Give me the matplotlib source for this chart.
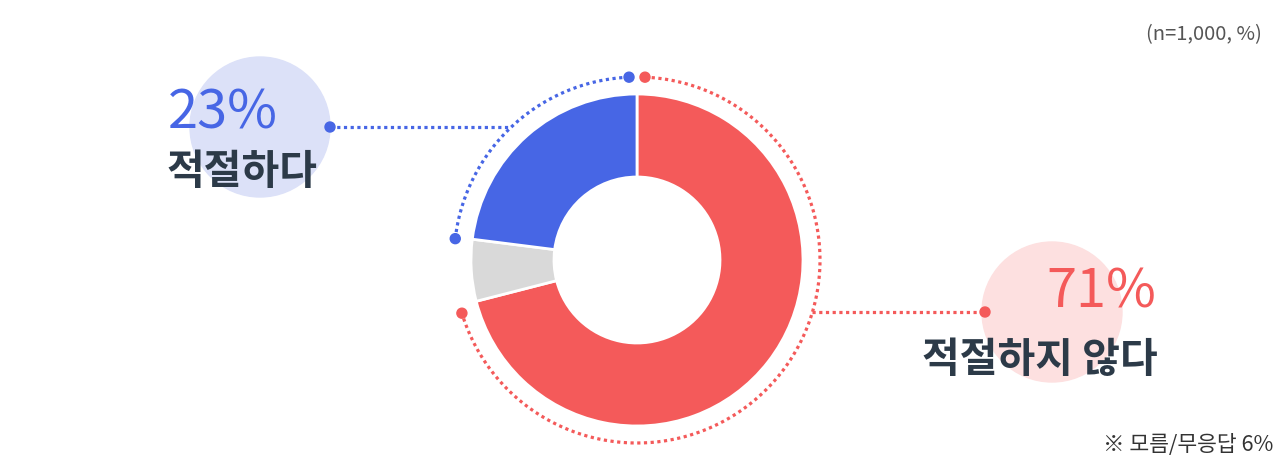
import numpy as np
import matplotlib.pyplot as plt
from matplotlib.patches import Circle

plt.rcParams['font.family'] = ['Noto Sans CJK KR', 'DejaVu Sans']

# --- data ---
labels = ['적절하지 않다', '모름/무응답', '적절하다']
values = [71, 6, 23]
colors = ['#F45A5A', '#D9D9D9', '#4766E5']
note_text = '※ 모름/무응답 6%'
base_text = '(n=1,000, %)'

W, H = 1280, 470
fig = plt.figure(figsize=(W / 100, H / 100), dpi=100)
ax = fig.add_axes([0, 0, 1, 1])

cx, cy = 637, H - 260
R = 166

ax.pie(values, colors=colors, startangle=90, counterclock=False,
       center=(cx, cy), radius=R,
       wedgeprops=dict(width=83, edgecolor='white', linewidth=2))

ax.set_xlim(0, W)
ax.set_ylim(0, H)
ax.set_aspect('auto')
ax.axis('off')

# --- angles of the wedges ---
total = sum(values)
red_end = 90 - 360 * values[0] / total          # clockwise from top
blue_start = 90 + 360 * values[2] / total       # counterclockwise from top

dot_style = dict(linestyle=(0, (1, 1.1)), linewidth=2.3, dash_capstyle='butt')
r_arc = 183


def dotted_arc(t1, t2, color):
    t = np.deg2rad(np.linspace(t1, t2, 300))
    ax.plot(cx + r_arc * np.cos(t), cy + r_arc * np.sin(t), color=color, **dot_style)
    for a in (t[0], t[-1]):
        ax.add_patch(Circle((cx + r_arc * np.cos(a), cy + r_arc * np.sin(a)), 5,
                            color=color, zorder=5))


dotted_arc(92.5, blue_start + 0.5, colors[2])
dotted_arc(87.5, red_end + 2.5, colors[0])

# label bubbles
ax.add_patch(Circle((260, H - 127), 70, color='#DCE1F8', zorder=0))
ax.add_patch(Circle((1052, H - 312), 70, color='#FDE0E0', zorder=0))

# connector lines
yb = H - 127
xb = cx - np.sqrt(r_arc ** 2 - (yb - cy) ** 2)
ax.plot([330, xb], [yb, yb], color=colors[2], **dot_style)
ax.add_patch(Circle((330, yb), 5, color=colors[2], zorder=5))

yr = H - 312
xr = cx + np.sqrt(r_arc ** 2 - (yr - cy) ** 2)
ax.plot([xr, 985], [yr, yr], color=colors[0], **dot_style)
ax.add_patch(Circle((985, yr), 5, color=colors[0], zorder=5))

# texts
dark = '#2C3A48'
ax.text(168, H - 113, f'{values[2]}%', color=colors[2], fontsize=39,
        fontweight='light', ha='left', va='center')
ax.text(166, H - 172, labels[2], color=dark, fontsize=29.5,
        fontweight='bold', ha='left', va='center')
ax.text(1156, H - 292, f'{values[0]}%', color=colors[0], fontsize=39,
        fontweight='light', ha='right', va='center')
ax.text(1158, H - 360, labels[0], color=dark, fontsize=29.5,
        fontweight='bold', ha='right', va='center')

ax.text(1262, H - 35, base_text, color='#555555', fontsize=14.5, ha='right', va='center')
ax.text(1273, H - 445, note_text, color='#333333', fontsize=15.5, ha='right', va='center')

fig.savefig('out.png', dpi=100, facecolor='white')
